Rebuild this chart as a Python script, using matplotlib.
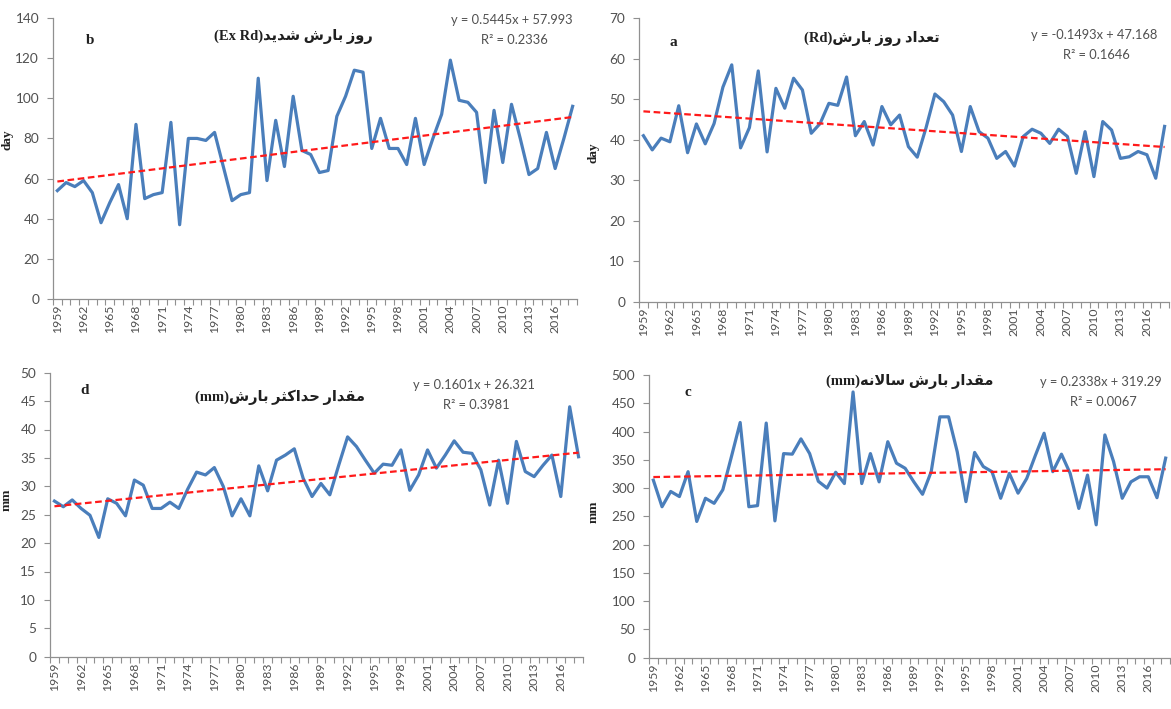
import matplotlib
matplotlib.use("Agg")
import matplotlib.pyplot as plt
import numpy as np

# ---------------- data ----------------
years = list(range(1959, 2019))

rd_a = [41, 37.5, 40.4, 39.5, 48.4, 36.8, 43.9, 39, 44, 53,
        58.5, 38, 43, 57, 37, 52.7, 47.8, 55.2, 52.3, 41.6,
        44, 49, 48.5, 55.5, 41, 44.5, 38.7, 48.2, 43.7, 46.1,
        38.3, 35.7, 43, 51.3, 49.4, 46.1, 37.1, 48.2, 42.0, 40.4,
        35.4, 37.1, 33.5, 40.8, 42.6, 41.6, 39.1, 42.6, 40.8, 31.7,
        42.0, 30.9, 44.5, 42.4, 35.4, 35.8, 37.1, 36.3, 30.5, 43.3]

exrd_b = [54, 58, 56, 59, 53, 38, 48, 57, 40, 87,
          50, 52, 53, 88, 37, 80, 80, 79, 83, 66,
          49, 52, 53, 110, 59, 89, 66, 101, 74, 72,
          63, 64, 91, 101, 114, 113, 75, 90, 75, 75,
          67, 90, 67, 80, 92, 119, 99, 98, 93, 58,
          94, 68, 97, 80, 62, 65, 83, 65, 80, 96]

annual_c = [314, 267, 294, 285, 329, 241, 282, 273, 297, 356,
            416, 267, 269, 415, 242, 361, 360, 387, 361, 312,
            300, 328, 308, 470, 308, 361, 311, 382, 344, 335,
            311, 289, 329, 426, 426, 364, 276, 363, 338, 329,
            282, 326, 291, 317, 358, 397, 329, 360, 326, 264,
            323, 235, 394, 347, 282, 311, 320, 320, 283, 353]

maxp_d = [27.4, 26.4, 27.6, 26.1, 24.9, 21.0, 27.8, 27.0, 24.8, 31.1,
          30.2, 26.1, 26.1, 27.2, 26.1, 29.5, 32.5, 32.0, 33.3, 30.0,
          24.8, 27.8, 24.8, 33.6, 29.2, 34.6, 35.5, 36.6, 31.4, 28.2,
          30.5, 28.5, 33.7, 38.7, 37.0, 34.6, 32.3, 33.9, 33.7, 36.4,
          29.3, 32.0, 36.4, 33.2, 35.5, 38.0, 36.0, 35.8, 32.9, 26.7,
          34.6, 27.0, 37.9, 32.6, 31.7, 33.7, 35.5, 28.2, 44.0, 35.2]

slope_a, icpt_a, r2_a = -0.1493, 47.168, 0.1646
slope_b, icpt_b, r2_b = 0.5445, 57.993, 0.2336
slope_c, icpt_c, r2_c = 0.2338, 319.29, 0.0067
slope_d, icpt_d, r2_d = 0.1601, 26.321, 0.3981

title_a = "تعداد روز بارش"
title_b = "روز بارش شدید"
title_c = "مقدار بارش سالانه"
title_d = "مقدار حداکثر بارش"

# ---------------- minimal Persian shaping (presentation forms) ----------------
FORMS = {
    'ا': ('\uFE8D', '\uFE8E', None, None),
    'ب': ('\uFE8F', '\uFE90', '\uFE91', '\uFE92'),
    'ت': ('\uFE95', '\uFE96', '\uFE97', '\uFE98'),
    'ث': ('\uFE99', '\uFE9A', '\uFE9B', '\uFE9C'),
    'ح': ('\uFEA1', '\uFEA2', '\uFEA3', '\uFEA4'),
    'د': ('\uFEA9', '\uFEAA', None, None),
    'ر': ('\uFEAD', '\uFEAE', None, None),
    'ز': ('\uFEAF', '\uFEB0', None, None),
    'س': ('\uFEB1', '\uFEB2', '\uFEB3', '\uFEB4'),
    'ش': ('\uFEB5', '\uFEB6', '\uFEB7', '\uFEB8'),
    'ع': ('\uFEC9', '\uFECA', '\uFECB', '\uFECC'),
    'ق': ('\uFED5', '\uFED6', '\uFED7', '\uFED8'),
    'ک': ('\uFB8E', '\uFB8F', '\uFB90', '\uFB91'),
    'ل': ('\uFEDD', '\uFEDE', '\uFEDF', '\uFEE0'),
    'م': ('\uFEE1', '\uFEE2', '\uFEE3', '\uFEE4'),
    'ن': ('\uFEE5', '\uFEE6', '\uFEE7', '\uFEE8'),
    'ه': ('\uFEE9', '\uFEEA', '\uFEEB', '\uFEEC'),
    'و': ('\uFEED', '\uFEEE', None, None),
    'ی': ('\uFBFC', '\uFBFD', '\uFBFE', '\uFBFF'),
    'لا': ('\uFEFB', '\uFEFC', None, None),
}


def shape_fa(s):
    toks = []
    k = 0
    while k < len(s):
        if s[k:k + 2] == 'لا':
            toks.append('لا')
            k += 2
        else:
            toks.append(s[k])
            k += 1
    out = []
    for k, t in enumerate(toks):
        if t not in FORMS:
            out.append(t)
            continue
        f = FORMS[t]
        prev = toks[k - 1] if k > 0 else None
        nxt = toks[k + 1] if k + 1 < len(toks) else None
        pj = prev in FORMS and FORMS[prev][2] is not None
        nj = nxt in FORMS and f[2] is not None
        if pj and nj:
            out.append(f[3])
        elif pj:
            out.append(f[1])
        elif nj:
            out.append(f[2])
        else:
            out.append(f[0])
    return ''.join(out)[::-1]


# ---------------- layout ----------------
W, H = 1171, 709
fig = plt.figure(figsize=(W / 100, H / 100), dpi=100)
fig.patch.set_facecolor('white')

num_font = ['Lato', 'DejaVu Sans']
ser_font = ['Liberation Serif', 'DejaVu Sans']
txt_col = '#505050'
line_col = '#4A7EBB'
trend_col = '#FF1A1A'


def fx(px):
    return px / W


def fy(py):
    return 1 - py / H


panels = [
    dict(v=exrd_b, ymax=140, step=20, rect=(53, 577, 18, 299), s=slope_b, c=icpt_b, r2=r2_b,
         letter='b', title=title_b, paren='(Ex Rd)', ylab='day',
         lpos=(90, 40), tpos=(293, 36), epos=(512, 20), ypos=(13, 140)),
    dict(v=rd_a, ymax=70, step=10, rect=(639, 1169, 18.3, 301.7), s=slope_a, c=icpt_a, r2=r2_a,
         letter='a', title=title_a, paren='(Rd)', ylab='day',
         lpos=(673, 42), tpos=(872, 38), epos=(1094, 35), ypos=(600, 153)),
    dict(v=maxp_d, ymax=50, step=5, rect=(50, 583, 372.7, 656.7), s=slope_d, c=icpt_d, r2=r2_d,
         letter='d', title=title_d, paren='(mm)', ylab='mm',
         lpos=(85, 390), tpos=(280, 397), epos=(474, 385), ypos=(13, 500)),
    dict(v=annual_c, ymax=500, step=50, rect=(649, 1170, 375, 657.7), s=slope_c, c=icpt_c, r2=r2_c,
         letter='c', title=title_c, paren='(mm)', ylab='mm',
         lpos=(688, 393), tpos=(910, 381), epos=(1101, 382), ypos=(600, 512)),
]

n = len(years)
xi = np.arange(n)

for p in panels:
    l, r, t, b = p['rect']
    ax = fig.add_axes([fx(l), fy(b), (r - l) / W, (b - t) / H])
    ax.set_facecolor('white')
    ax.plot(xi, p['v'], color=line_col, lw=2.3, solid_joinstyle='round', zorder=3)
    trend = [p['s'] * (k + 1) + p['c'] for k in xi]
    ax.plot(xi, trend, color=trend_col, lw=1.6, ls=(0, (3.0, 1.6)), zorder=4)

    ax.set_xlim(-0.5, n - 0.5)
    ax.set_ylim(0, p['ymax'])
    ax.set_yticks(np.arange(0, p['ymax'] + p['step'] / 2, p['step']))
    ax.set_xticks(xi[::3])
    ax.set_xticklabels([str(y) for y in years[::3]], rotation=90,
                       fontsize=8.8, color=txt_col, family=num_font)
    ax.set_xticks(np.arange(-0.5, n, 1.0), minor=True)
    ax.tick_params(axis='x', which='major', length=0, pad=4)
    ax.tick_params(axis='x', which='minor', length=4, width=0.8, color='#909090', direction='out')
    ax.tick_params(axis='y', length=4, width=0.8, color='#909090', direction='out', pad=6)
    for lab in ax.get_yticklabels():
        lab.set_fontsize(9.8)
        lab.set_color(txt_col)
        lab.set_family(num_font)
    for sp in ('top', 'right'):
        ax.spines[sp].set_visible(False)
    for sp in ('left', 'bottom'):
        ax.spines[sp].set_color('#909090')
        ax.spines[sp].set_linewidth(0.9)

    ax.set_ylabel(p['ylab'], fontsize=9.5, fontweight='bold', family=ser_font, color='#202020')
    ax.yaxis.set_label_coords((p['ypos'][0] - l) / (r - l), (b - p['ypos'][1]) / (b - t))

    fig.text(fx(p['lpos'][0]), fy(p['lpos'][1]), p['letter'], fontsize=11, fontweight='bold',
             family=ser_font, ha='center', va='center', color='#202020')
    fig.text(fx(p['tpos'][0]), fy(p['tpos'][1]), p['paren'] + shape_fa(p['title']), fontsize=10.5,
             fontweight='bold', family=ser_font, ha='center', va='center', color='#202020')
    sign = '+' if p['c'] >= 0 else '-'
    eq = f"y = {p['s']:.4f}x {sign} {abs(p['c']):g}"
    fig.text(fx(p['epos'][0]), fy(p['epos'][1]), eq, fontsize=9.3, family=num_font,
             ha='center', va='center', color=txt_col)
    fig.text(fx(p['epos'][0] + 2), fy(p['epos'][1] + 20), f"R² = {p['r2']:.4f}", fontsize=9.3,
             family=num_font, ha='center', va='center', color=txt_col)

fig.savefig('out.png', dpi=100, facecolor='white')
